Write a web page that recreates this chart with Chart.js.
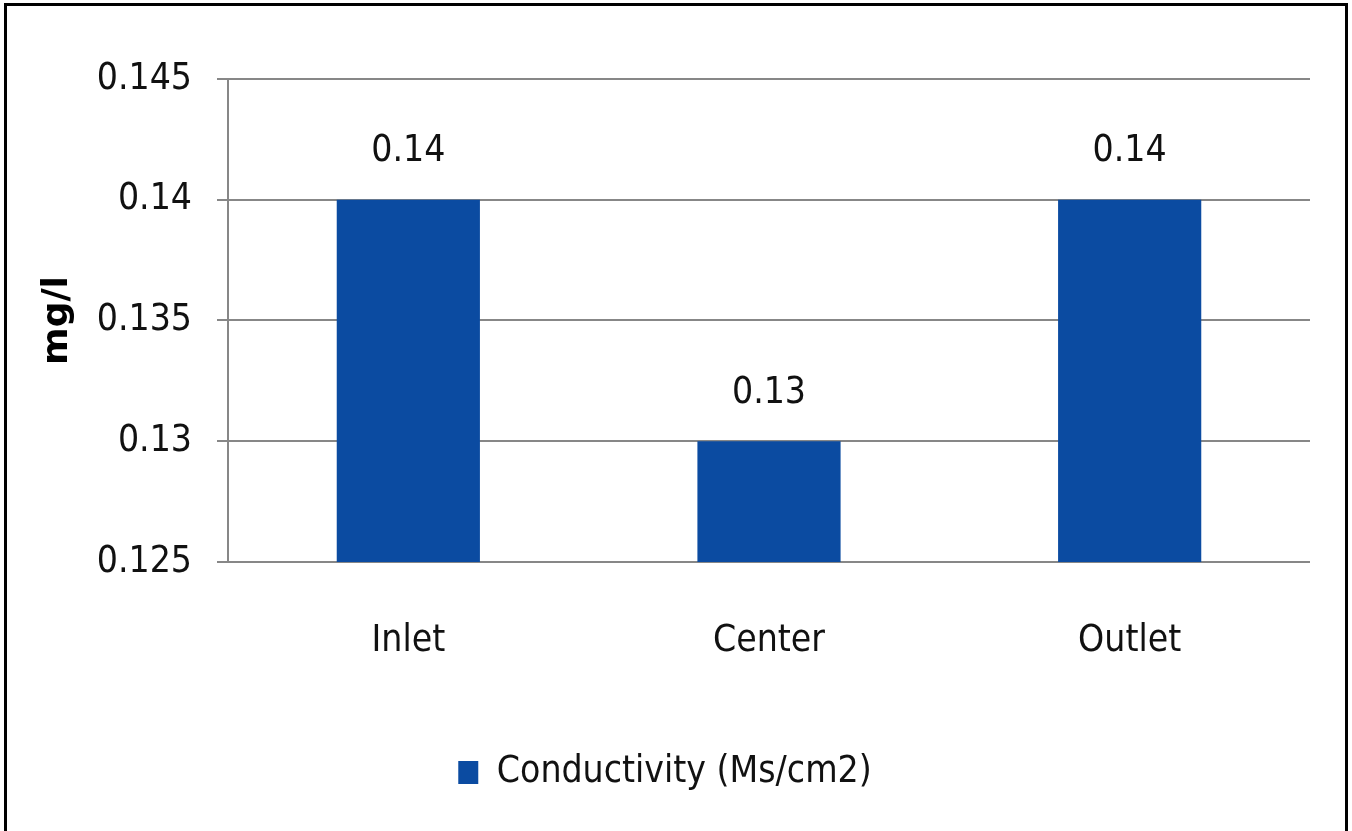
<!DOCTYPE html>
<html lang="en">
<head>
    <meta charset="UTF-8">
    <title>Conductivity</title>
    <script src="https://cdn.jsdelivr.net/npm/chart.js"></script>
    <style>
        html, body {
            margin: 0;
            padding: 0;
            background: #ffffff;
            overflow: hidden;
        }
        .wrap {
            position: relative;
            width: 1352px;
            height: 831px;
        }
        .frame {
            position: absolute;
            left: 4px;
            top: 3px;
            width: 1338px;
            height: 900px;
            border: 3px solid #000;
            pointer-events: none;
        }
    </style>
</head>
<body>
    <div class="wrap">
        <canvas id="chartCanvas"></canvas>
        <div class="frame"></div>
    </div>

    <script>
        // datos
        const categories = ['Inlet', 'Center', 'Outlet'];
        const conductivity = [0.14, 0.13, 0.14];
        const seriesName = 'Conductivity (Ms/cm2)';
        const yMin = 0.125;
        const yMax = 0.145;
        const yStep = 0.005;

        const fontFamily = '"Liberation Sans Narrow", "DejaVu Sans Condensed", "Liberation Sans", sans-serif';
        const fontSize = 37;
        const barColor = '#0b4ba1';
        const gridColor = '#878787';

        // etiquetas de valor encima de cada barra
        const valueLabels = {
            id: 'valueLabels',
            afterDatasetsDraw(chart) {
                const ctx = chart.ctx;
                const meta = chart.getDatasetMeta(0);
                ctx.save();
                ctx.font = fontSize + 'px ' + fontFamily;
                ctx.fillStyle = '#111';
                ctx.textAlign = 'center';
                ctx.textBaseline = 'middle';
                meta.data.forEach(function (bar, i) {
                    ctx.fillText(conductivity[i].toFixed(2), bar.x, bar.y - 48);
                });
                ctx.restore();
            }
        };

        new Chart(document.getElementById('chartCanvas'), {
            type: 'bar',
            data: {
                labels: categories,
                datasets: [{
                    label: seriesName,
                    data: conductivity,
                    backgroundColor: barColor,
                    borderWidth: 0,
                    categoryPercentage: 1,
                    barPercentage: 0.397
                }]
            },
            options: {
                responsive: true,
                maintainAspectRatio: false,
                animation: false,
                layout: {
                    padding: { left: 20, right: 42, top: 79, bottom: 30 }
                },
                plugins: {
                    tooltip: { enabled: false },
                    legend: {
                        position: 'bottom',
                        labels: {
                            boxWidth: 20,
                            boxHeight: 23,
                            padding: 10,
                            color: '#111',
                            font: { family: fontFamily, size: fontSize }
                        }
                    }
                },
                scales: {
                    x: {
                        afterFit(scale) { scale.height = 182; },
                        grid: { display: false, drawTicks: false },
                        border: { display: false },
                        ticks: {
                            padding: 57,
                            color: '#111',
                            font: { family: fontFamily, size: fontSize }
                        }
                    },
                    y: {
                        min: yMin,
                        max: yMax,
                        afterFit(scale) { scale.width = 208; },
                        grid: {
                            color: gridColor,
                            lineWidth: 2,
                            tickLength: 11
                        },
                        border: { display: true, color: gridColor, width: 2 },
                        ticks: {
                            stepSize: yStep,
                            padding: 25,
                            color: '#111',
                            font: { family: fontFamily, size: fontSize },
                            callback: function (v) { return String(parseFloat(v.toFixed(3))); }
                        },
                        title: {
                            display: true,
                            text: 'mg/l',
                            color: '#000',
                            padding: { top: 16, bottom: 0 },
                            font: { family: '"DejaVu Sans", sans-serif', size: 36, weight: 'bold' }
                        }
                    }
                }
            },
            plugins: [valueLabels]
        });
    </script>
</body>
</html>
